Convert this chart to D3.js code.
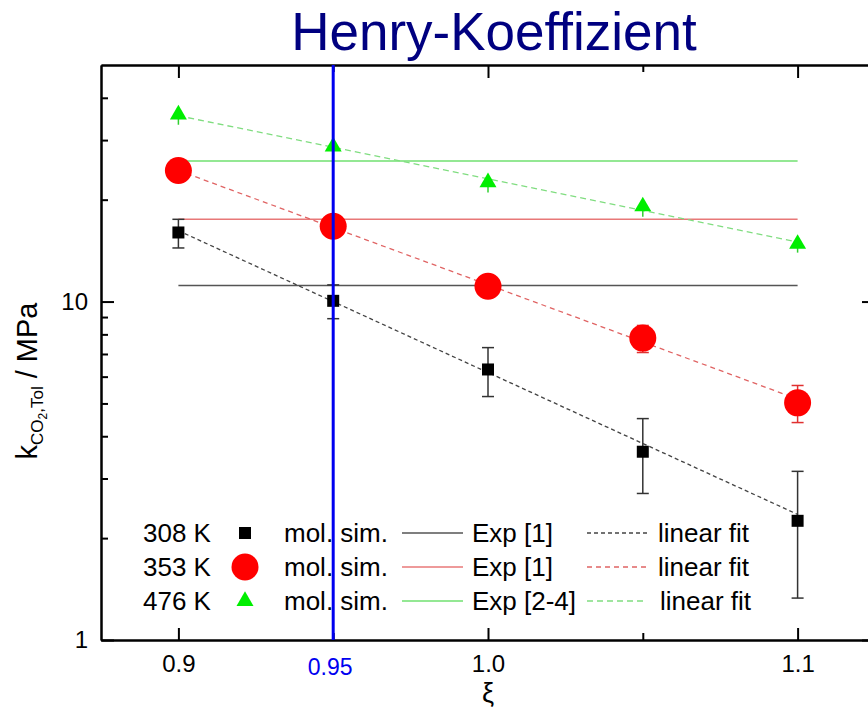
<!DOCTYPE html>
<html>
<head>
<meta charset="utf-8">
<script src="https://cdn.jsdelivr.net/npm/d3@7"></script>
<style>
    body { margin: 0; background: #fff; }
    text { font-family: Arial, "Liberation Sans", sans-serif; }
</style>
</head>
<body>
<div id="chart"></div>
<script>
// reduced temperature values on the x axis
let xi = [0.9, 0.95, 1.0, 1.05, 1.1];

let temps = ["308 K", "353 K", "476 K"];
let simLabel = "mol. sim.";
let expLabels = ["Exp [1]", "Exp [1]", "Exp [2-4]"];
let fitLabel = "linear fit";

// Henry coefficients from molecular simulation, MPa
let sim308 = [16.0, 10.05, 6.3, 3.6, 2.25];
let low308 = [14.4, 8.9, 5.24, 2.71, 1.33];
let high308 = [17.5, 11.2, 7.31, 4.51, 3.15];

let sim353 = [24.4, 16.7, 11.1, 7.8, 5.02];
let low353 = [23.4, 16.0, 10.6, 7.07, 4.39];
let high353 = [25.4, 17.4, 11.6, 8.5, 5.65];

let sim476 = [35.7, 28.7, 22.5, 19.1, 14.8];
let low476 = [33.3, 26.8, 21.0, 17.8, 13.95];
let high476 = [37.4, 30.1, 23.6, 20.0, 15.5];

// experimental values (constant lines) and fit end points at xi = 0.9 / 1.1
let expValues = [11.15, 17.5, 26.0];
let fitStart = [16.2, 24.4, 35.4];
let fitEnd = [2.35, 5.15, 15.0];

let xMajor = [0.9, 1.0, 1.1];
let xMinor = [0.95, 1.05];
let yMajor = [1, 10];
let yMinor = [2, 3, 4, 5, 6, 7, 8, 9, 20, 30, 40];
let markedXi = 0.95;

let styles = [
    {marker: "square", fill: "#000", err: "#333", cap: 6, exp: "#555", fit: "#444", dash: "4,3"},
    {marker: "circle", fill: "#ff0000", err: "#e03030", cap: 6, exp: "#e87878", fit: "#e06464", dash: "5,4"},
    {marker: "triangle", fill: "#00ee00", err: "#30d030", cap: 0, exp: "#70e070", fit: "#80dd80", dash: "6,4"}
];

let series = [
    {values: sim308, low: low308, high: high308},
    {values: sim353, low: low353, high: high353},
    {values: sim476, low: low476, high: high476}
].map((s, i) => ({...s, temp: temps[i], exp: expValues[i], fit: [fitStart[i], fitEnd[i]], style: styles[i]}));

let W = 868, H = 716;
let margin = {top: 65, right: -7, bottom: 76, left: 101},
    width = W - margin.left - margin.right,
    height = H - margin.top - margin.bottom;

let svg = d3.select("#chart")
    .append("svg")
        .attr("width", W)
        .attr("height", H);

let g = svg.append("g")
    .attr("transform", `translate(${margin.left},${margin.top})`);

let x = d3.scaleLinear()
    .domain([0.875, 1.125])
    .range([0, width]);

let y = d3.scaleLog()
    .domain([1, 50])
    .range([height, 0]);

function drawMarker(sel, type, cx, cy) {
    if (type === "square") {
        sel.append("rect")
            .attr("x", cx - 6).attr("y", cy - 6)
            .attr("width", 12).attr("height", 12);
    } else if (type === "circle") {
        sel.append("circle")
            .attr("cx", cx).attr("cy", cy).attr("r", 13.5);
    } else {
        sel.append("path")
            .attr("transform", `translate(${cx},${cy})`)
            .attr("d", d3.symbol(d3.symbolTriangle, 125)());
    }
}

// axes: ticks point inward on all four sides
function styleAxis(a) {
    a.select(".domain").attr("stroke-width", 2);
    a.selectAll(".tick line").attr("stroke-width", 2);
    a.selectAll("text").attr("font-size", 24).attr("fill", "#000");
}

g.append("g")
    .attr("transform", `translate(0,${height})`)
    .call(d3.axisBottom(x).tickValues(xMajor).tickSize(-12).tickSizeOuter(0).tickPadding(15)
        .tickFormat(d3.format(".1f")))
    .call(styleAxis);
g.append("g")
    .attr("transform", `translate(0,${height})`)
    .call(d3.axisBottom(x).tickValues(xMinor).tickSize(-7).tickSizeOuter(0).tickFormat(""))
    .call(styleAxis);

g.append("g")
    .call(d3.axisTop(x).tickValues(xMajor).tickSize(-13).tickSizeOuter(0).tickFormat(""))
    .call(styleAxis);
g.append("g")
    .call(d3.axisTop(x).tickValues(xMinor).tickSize(-7).tickSizeOuter(0).tickFormat(""))
    .call(styleAxis);

g.append("g")
    .call(d3.axisLeft(y).tickValues(yMajor).tickSize(-13).tickSizeOuter(0).tickPadding(13)
        .tickFormat(d3.format("d")))
    .call(styleAxis);
g.append("g")
    .call(d3.axisLeft(y).tickValues(yMinor).tickSize(-7).tickSizeOuter(0).tickFormat(""))
    .call(styleAxis);

g.append("g")
    .attr("transform", `translate(${width},0)`)
    .call(d3.axisRight(y).tickValues(yMajor).tickSize(-13).tickSizeOuter(0).tickFormat(""))
    .call(styleAxis);
g.append("g")
    .attr("transform", `translate(${width},0)`)
    .call(d3.axisRight(y).tickValues(yMinor).tickSize(-7).tickSizeOuter(0).tickFormat(""))
    .call(styleAxis);

// experimental values
g.selectAll(".exp")
    .data(series)
    .join("line")
        .attr("x1", x(xi[0]))
        .attr("x2", x(xi[xi.length - 1]))
        .attr("y1", d => y(d.exp))
        .attr("y2", d => y(d.exp))
        .attr("stroke", d => d.style.exp)
        .attr("stroke-width", 1.5);

// linear fits
g.selectAll(".fit")
    .data(series)
    .join("line")
        .attr("x1", x(xi[0]))
        .attr("x2", x(xi[xi.length - 1]))
        .attr("y1", d => y(d.fit[0]))
        .attr("y2", d => y(d.fit[1]))
        .attr("stroke", d => d.style.fit)
        .attr("stroke-width", 1.3)
        .attr("stroke-dasharray", d => d.style.dash);

// error bars and markers
series.forEach(s => {
    let eg = g.append("g")
        .attr("stroke", s.style.err)
        .attr("stroke-width", 1.5);
    let cap = s.style.cap;
    xi.forEach((v, i) => {
        let cx = x(v);
        eg.append("line")
            .attr("x1", cx).attr("x2", cx)
            .attr("y1", y(s.low[i])).attr("y2", y(s.high[i]));
        if (cap > 0) {
            [s.low[i], s.high[i]].forEach(e => {
                eg.append("line")
                    .attr("x1", cx - cap).attr("x2", cx + cap)
                    .attr("y1", y(e)).attr("y2", y(e));
            });
        }
    });
    let mg = g.append("g").attr("fill", s.style.fill);
    xi.forEach((v, i) => drawMarker(mg, s.style.marker, x(v), y(s.values[i])));
});

// legend
let legend = svg.append("g").attr("font-size", 26).attr("fill", "#000");
let rowY = [533, 567, 601];
series.forEach((s, i) => {
    let ry = rowY[i];
    legend.append("text").attr("x", 143).attr("y", ry).attr("dy", "0.35em").text(s.temp);
    drawMarker(legend.append("g").attr("fill", s.style.fill), s.style.marker, 245, ry);
    legend.append("text").attr("x", 284).attr("y", ry).attr("dy", "0.35em").text(simLabel);
    legend.append("line")
        .attr("x1", 402).attr("x2", 463).attr("y1", ry).attr("y2", ry)
        .attr("stroke", s.style.exp).attr("stroke-width", 1.5);
    legend.append("text").attr("x", 472).attr("y", ry).attr("dy", "0.35em").text(expLabels[i]);
    legend.append("line")
        .attr("x1", 587).attr("x2", 647).attr("y1", ry).attr("y2", ry)
        .attr("stroke", s.style.fit).attr("stroke-width", 1.3)
        .attr("stroke-dasharray", s.style.dash);
    legend.append("text").attr("x", i === 2 ? 660 : 658).attr("y", ry).attr("dy", "0.35em").text(fitLabel);
});

// highlighted xi = 0.95
g.append("line")
    .attr("x1", x(markedXi)).attr("x2", x(markedXi))
    .attr("y1", 0).attr("y2", height)
    .attr("stroke", "#0000f0")
    .attr("stroke-width", 3);
g.append("text")
    .attr("x", x(markedXi) - 3)
    .attr("y", height + 35)
    .attr("text-anchor", "middle")
    .attr("font-size", 23)
    .attr("fill", "#0000f0")
    .text(d3.format(".2f")(markedXi));

// title and axis labels
svg.append("text")
    .attr("x", 494)
    .attr("y", 50)
    .attr("text-anchor", "middle")
    .attr("font-size", 53)
    .attr("fill", "#000080")
    .text("Henry-Koeffizient");

svg.append("text")
    .attr("x", margin.left + x(1.0))
    .attr("y", 702)
    .attr("text-anchor", "middle")
    .attr("font-size", 27)
    .text("ξ");

let yl = svg.append("text")
    .attr("transform", "translate(37,381) rotate(-90)")
    .attr("text-anchor", "middle")
    .attr("font-size", 29);
yl.append("tspan").text("k");
yl.append("tspan").attr("font-size", 17).attr("dy", 6).text("CO");
yl.append("tspan").attr("font-size", 12).attr("dy", 4).text("2");
yl.append("tspan").attr("font-size", 17).attr("dy", -4).text(",Tol");
yl.append("tspan").attr("dy", -6).text(" / MPa");
</script>
</body>
</html>
